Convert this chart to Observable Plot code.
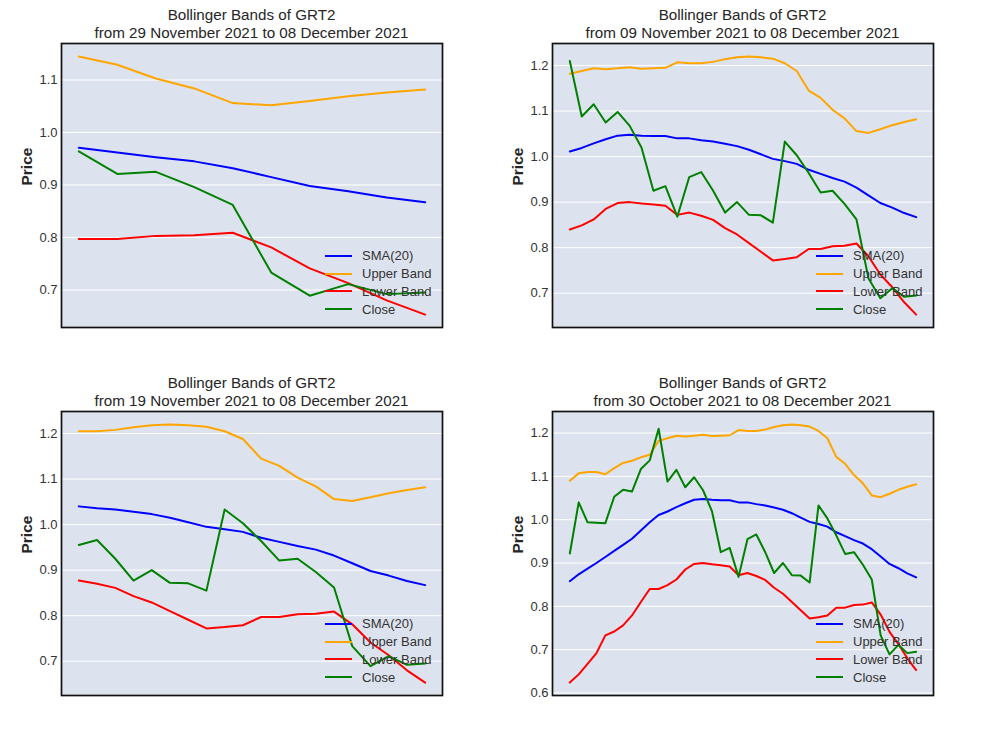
<!DOCTYPE html>
<html><head><meta charset="utf-8">
<script src="https://cdn.jsdelivr.net/npm/d3@7"></script>
<script src="https://cdn.jsdelivr.net/npm/@observablehq/plot@0.6"></script>
<style>
body{margin:0;background:#fff;font-family:"Liberation Sans",Arial,sans-serif;}
#root{position:relative;width:981px;height:736px;overflow:hidden;}
.panel{position:absolute;width:490px;height:340px;}
.panel svg{position:absolute;left:0;top:0;}
.title{position:absolute;left:51px;width:401px;top:6px;text-align:center;font-size:15.2px;line-height:17.5px;color:#262626;white-space:nowrap;}
.legend{position:absolute;left:325px;top:247px;font-size:13px;color:#333;}
.item{display:flex;align-items:center;height:17.8px;}
.sw{width:27px;height:0;border-top:2px solid;margin-right:10px;}
</style>
</head><body>
<div id="root"></div>
<script>
// 40 daily observations, 30 Oct 2021 .. 08 Dec 2021
const close = [0.922,1.040,0.994,0.993,0.992,1.053,1.069,1.065,1.117,1.137,
  1.210,1.088,1.115,1.075,1.098,1.068,1.020,0.925,0.935,0.868,
  0.955,0.966,0.925,0.877,0.900,0.872,0.871,0.855,1.033,1.003,
  0.964,0.921,0.925,0.896,0.862,0.733,0.689,0.711,0.692,0.695];
const sma = [0.858,0.874,0.887,0.900,0.914,0.928,0.942,0.956,0.975,0.994,
  1.011,1.019,1.029,1.038,1.046,1.048,1.046,1.045,1.045,1.040,
  1.040,1.036,1.033,1.028,1.023,1.015,1.005,0.995,0.990,0.984,
  0.971,0.962,0.953,0.945,0.932,0.915,0.898,0.888,0.876,0.867];
const upper = [1.090,1.107,1.110,1.110,1.105,1.119,1.131,1.136,1.144,1.150,
  1.182,1.188,1.194,1.192,1.194,1.196,1.193,1.194,1.195,1.207,
  1.205,1.205,1.208,1.214,1.218,1.220,1.218,1.215,1.205,1.188,
  1.145,1.129,1.103,1.084,1.056,1.052,1.060,1.069,1.076,1.082];
const lower = [0.624,0.643,0.667,0.692,0.733,0.742,0.756,0.779,0.810,0.840,
  0.840,0.849,0.862,0.885,0.898,0.900,0.897,0.895,0.892,0.872,
  0.877,0.870,0.861,0.843,0.829,0.810,0.791,0.772,0.775,0.779,
  0.797,0.797,0.803,0.804,0.809,0.781,0.741,0.713,0.680,0.653];

const seriesNames = ["SMA(20)", "Upper Band", "Lower Band", "Close"];
const seriesColors = ["#0000ff", "#ffa500", "#ff0000", "#008000"];
const seriesValues = [sma, upper, lower, close];

const panelStarts = [30, 10, 20, 0];
const panelFrom = ["29 November 2021", "09 November 2021", "19 November 2021", "30 October 2021"];
const panelTo = "08 December 2021";
const titleLine1 = "Bollinger Bands of GRT2";
const panelLeft = [0, 491, 0, 491];
const panelTop = [0, 0, 368, 368];

const bg = "#dde3ee";
const root = document.getElementById("root");

panelStarts.forEach((start, p) => {
  const rows = [];
  seriesNames.forEach((name, s) => {
    for (let i = start; i < close.length; i++) rows.push({i: i - start, v: seriesValues[s][i], name});
  });
  const n = close.length - start;
  const vals = rows.map(d => d.v);
  const lo = d3.min(vals), hi = d3.max(vals), m = (hi - lo) * 0.05;
  const yt = d3.range(Math.ceil((lo - m) * 10 - 1e-9), Math.floor((hi + m) * 10 + 1e-9) + 1).map(k => k / 10);

  const chart = Plot.plot({
    width: 490, height: 330,
    marginLeft: 61, marginRight: 48, marginTop: 43, marginBottom: 3,
    style: {background: "transparent", fontFamily: "'Liberation Sans', Arial, sans-serif", color: "#333", overflow: "visible"},
    x: {domain: [-0.05 * (n - 1), 1.05 * (n - 1)], axis: null},
    y: {domain: [lo - m, hi + m], axis: null},
    color: {domain: seriesNames, range: seriesColors},
    marks: [
      Plot.frame({fill: bg}),
      Plot.gridY(yt, {stroke: "white", strokeOpacity: 1, strokeWidth: 1}),
      Plot.axisY(yt, {tickSize: 0, tickPadding: 4, tickFormat: d3.format(".1f"), label: null, fontSize: 13, fill: "#333"}),
      Plot.lineY(rows, {x: "i", y: "v", stroke: "name", z: "name", strokeWidth: 2}),
      Plot.frame({stroke: "#111", strokeWidth: 1.7}),
      Plot.text(["Price"], {frameAnchor: "left", dx: -34, rotate: -90, fontWeight: "bold", fontSize: 15.5, fill: "#262626"})
    ]
  });

  const div = document.createElement("div");
  div.className = "panel";
  div.style.left = panelLeft[p] + "px";
  div.style.top = panelTop[p] + "px";
  div.appendChild(chart);

  const t = document.createElement("div");
  t.className = "title";
  t.innerHTML = titleLine1 + "<br>from " + panelFrom[p] + " to " + panelTo;
  div.appendChild(t);

  const lg = document.createElement("div");
  lg.className = "legend";
  seriesNames.forEach((name, s) => {
    const it = document.createElement("div");
    it.className = "item";
    const sw = document.createElement("span");
    sw.className = "sw";
    sw.style.borderTopColor = seriesColors[s];
    const tx = document.createElement("span");
    tx.textContent = name;
    it.appendChild(sw); it.appendChild(tx);
    lg.appendChild(it);
  });
  div.appendChild(lg);
  root.appendChild(div);
});
</script>
</body></html>
